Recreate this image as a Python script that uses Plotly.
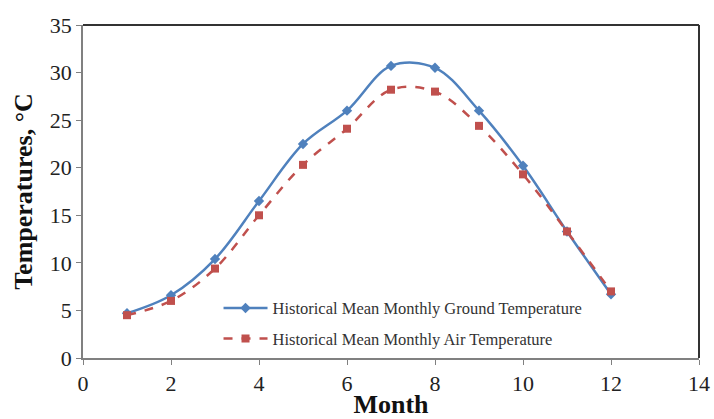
import plotly.graph_objects as go

months = [1, 2, 3, 4, 5, 6, 7, 8, 9, 10, 11, 12]
ground_temp = [4.7, 6.6, 10.4, 16.5, 22.5, 26.0, 30.7, 30.5, 26.0, 20.2, 13.3, 6.7]
air_temp = [4.5, 6.0, 9.4, 15.0, 20.3, 24.1, 28.2, 28.0, 24.4, 19.3, 13.3, 7.0]
x_ticks = [0, 2, 4, 6, 8, 10, 12, 14]
y_ticks = [0, 5, 10, 15, 20, 25, 30, 35]

FONT = "Liberation Serif, Times New Roman, serif"

fig = go.Figure()
fig.add_trace(go.Scatter(
    x=months, y=ground_temp, mode="lines+markers",
    name="Historical Mean Monthly Ground Temperature",
    line=dict(color="#4F81BD", width=2.5, shape="spline", smoothing=1),
    marker=dict(symbol="diamond", size=8, color="#4F81BD"),
    legendgroup="g1",
))
fig.add_trace(go.Scatter(
    x=months, y=air_temp, mode="lines+markers",
    name="Historical Mean Monthly Air Temperature",
    line=dict(color="#C0504D", width=2.5, shape="spline", smoothing=1, dash="dash"),
    marker=dict(symbol="square", size=8, color="#C0504D"),
    legendgroup="g2",
))

axis_common = dict(
    showgrid=False, zeroline=False, showline=True, linecolor="#808080", linewidth=1.5,
    ticks="outside", ticklen=5, tickcolor="#808080", automargin=False,
    tickfont=dict(family=FONT, size=22, color="#222"),
)

fig.update_layout(
    width=714, height=419,
    margin=dict(l=83, r=15, t=25, b=61),
    paper_bgcolor="white", plot_bgcolor="white",
    xaxis=dict(range=[0, 14], tickvals=x_ticks, **axis_common,
               title=dict(text="<b>Month</b>", font=dict(family=FONT, size=26, color="#111"), standoff=4)),
    yaxis=dict(range=[0, 35], tickvals=y_ticks, **axis_common,
               title=dict(text="<b>Temperatures, °C</b>", font=dict(family=FONT, size=26, color="#111"), standoff=10)),
    legend=dict(x=0.22, y=0.202, xanchor="left", yanchor="top",
                font=dict(family=FONT, size=16.5, color="#333"),
                bgcolor="rgba(0,0,0,0)", tracegroupgap=6, itemwidth=44),
    showlegend=True,
)

# top and right frame lines
fig.add_shape(type="line", xref="paper", yref="paper", x0=0, x1=1, y0=1, y1=1,
              line=dict(color="#333", width=2))
fig.add_shape(type="line", xref="paper", yref="paper", x0=1, x1=1, y0=0, y1=1,
              line=dict(color="#333", width=2))

fig.write_html("out.html", config={"displayModeBar": False},
               post_script="document.body.style.margin='0';document.body.style.overflow='hidden';")
